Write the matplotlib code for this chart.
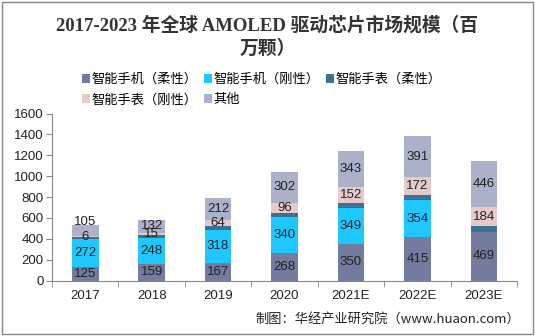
import matplotlib
matplotlib.use("Agg")
import matplotlib.pyplot as plt
from matplotlib.patches import Rectangle
import numpy as np

plt.rcParams['font.family'] = ['Liberation Sans', 'Noto Sans CJK SC', 'DejaVu Sans']

categories = ["2017", "2018", "2019", "2020", "2021E", "2022E", "2023E"]
series_names = ["智能手机（柔性）", "智能手机（刚性）", "智能手表（柔性）", "智能手表（刚性）", "其他"]
phone_flex = [125, 159, 167, 268, 350, 415, 469]
phone_rigid = [272, 248, 318, 340, 349, 354, 0]
watch_flex = [20, 30, 34, 38, 42, 48, 50]
watch_rigid = [6, 15, 64, 96, 152, 172, 184]
others = [105, 132, 212, 302, 343, 391, 446]
yticks = [0, 200, 400, 600, 800, 1000, 1200, 1400, 1600]

colors = ["#737B9E", "#1EC8FF", "#3A7294", "#E6CACA", "#ABB1C9"]
show_labels = [True, True, False, True, True]
data = [phone_flex, phone_rigid, watch_flex, watch_rigid, others]

fig = plt.figure(figsize=(5.35, 3.36), dpi=100)
ax = fig.add_axes([52/535, 1-280.5/336, (517-52)/535, (280.5-113.5)/336])

x = np.arange(len(categories))
bottom = np.zeros(len(categories))
handles = []
last_label_y = np.full(len(categories), -1e9)
for vals, c, name, lab in zip(data, colors, series_names, show_labels):
    vals = np.array(vals, dtype=float)
    bars = ax.bar(x, vals, 0.4, bottom=bottom, color=c, label=name, zorder=2)
    handles.append(bars)
    if lab:
        for i, (xi, v, b) in enumerate(zip(x, vals, bottom)):
            if v > 0:
                y = b + v/2
                if y - last_label_y[i] < 60:
                    y = last_label_y[i] + 145
                ax.text(xi, y, f"{int(v)}", ha='center', va='center',
                        fontsize=9.5, color='#222222', zorder=3)
                last_label_y[i] = y
    bottom += vals

ax.set_xlim(-0.5, len(categories)-0.5)
ax.set_ylim(0, 1600)
ax.set_yticks(yticks)
ax.set_yticklabels([str(v) for v in yticks], fontsize=9.5, color='#222222')
ax.set_xticks(x)
ax.set_xticklabels(categories, fontsize=9.5, color='#222222')
ax.set_xticks(np.arange(-0.5, len(categories), 1), minor=True)
ax.tick_params(axis='x', which='major', length=0, pad=7)
ax.tick_params(axis='x', which='minor', length=4, color='#888888')
ax.tick_params(axis='y', length=4, color='#888888', pad=2)
for s in ['top', 'right']:
    ax.spines[s].set_visible(False)
for s in ['left', 'bottom']:
    ax.spines[s].set_color('#888888')

order = [0, 3, 1, 4, 2]
fig.legend([handles[i] for i in order], [series_names[i] for i in order],
           ncol=3, loc='upper left', bbox_to_anchor=(82/535, 1-73/336),
           frameon=False, handlelength=0.6, handleheight=0.6,
           handletextpad=0.15, columnspacing=0.45, labelspacing=0.55,
           borderaxespad=0, borderpad=0,
           prop={'family': ['Noto Sans CJK SC'], 'size': 9.5})

title_font = ['Liberation Serif', 'Noto Sans CJK SC']
fig.text(0.5, 1-25/336, "2017-2023 年全球 AMOLED 驱动芯片市场规模（百", ha='center', va='center',
         fontsize=13.5, fontweight='bold', color='#333333', family=title_font)
fig.text(0.5, 1-49/336, "万颗）", ha='center', va='center',
         fontsize=13.5, fontweight='bold', color='#333333', family=title_font)

fig.text(520/535, 1-319/336, "制图：华经产业研究院（www.huaon.com）", ha='right', va='center',
         fontsize=9.5, color='#222222', family=['Noto Sans CJK SC', 'DejaVu Sans'])

fig.patches.append(Rectangle((2/535, 2/336), 1-4/535, 1-4/336, transform=fig.transFigure,
                             fill=False, edgecolor='#888888', linewidth=1))

fig.savefig("out.png", dpi=100)
